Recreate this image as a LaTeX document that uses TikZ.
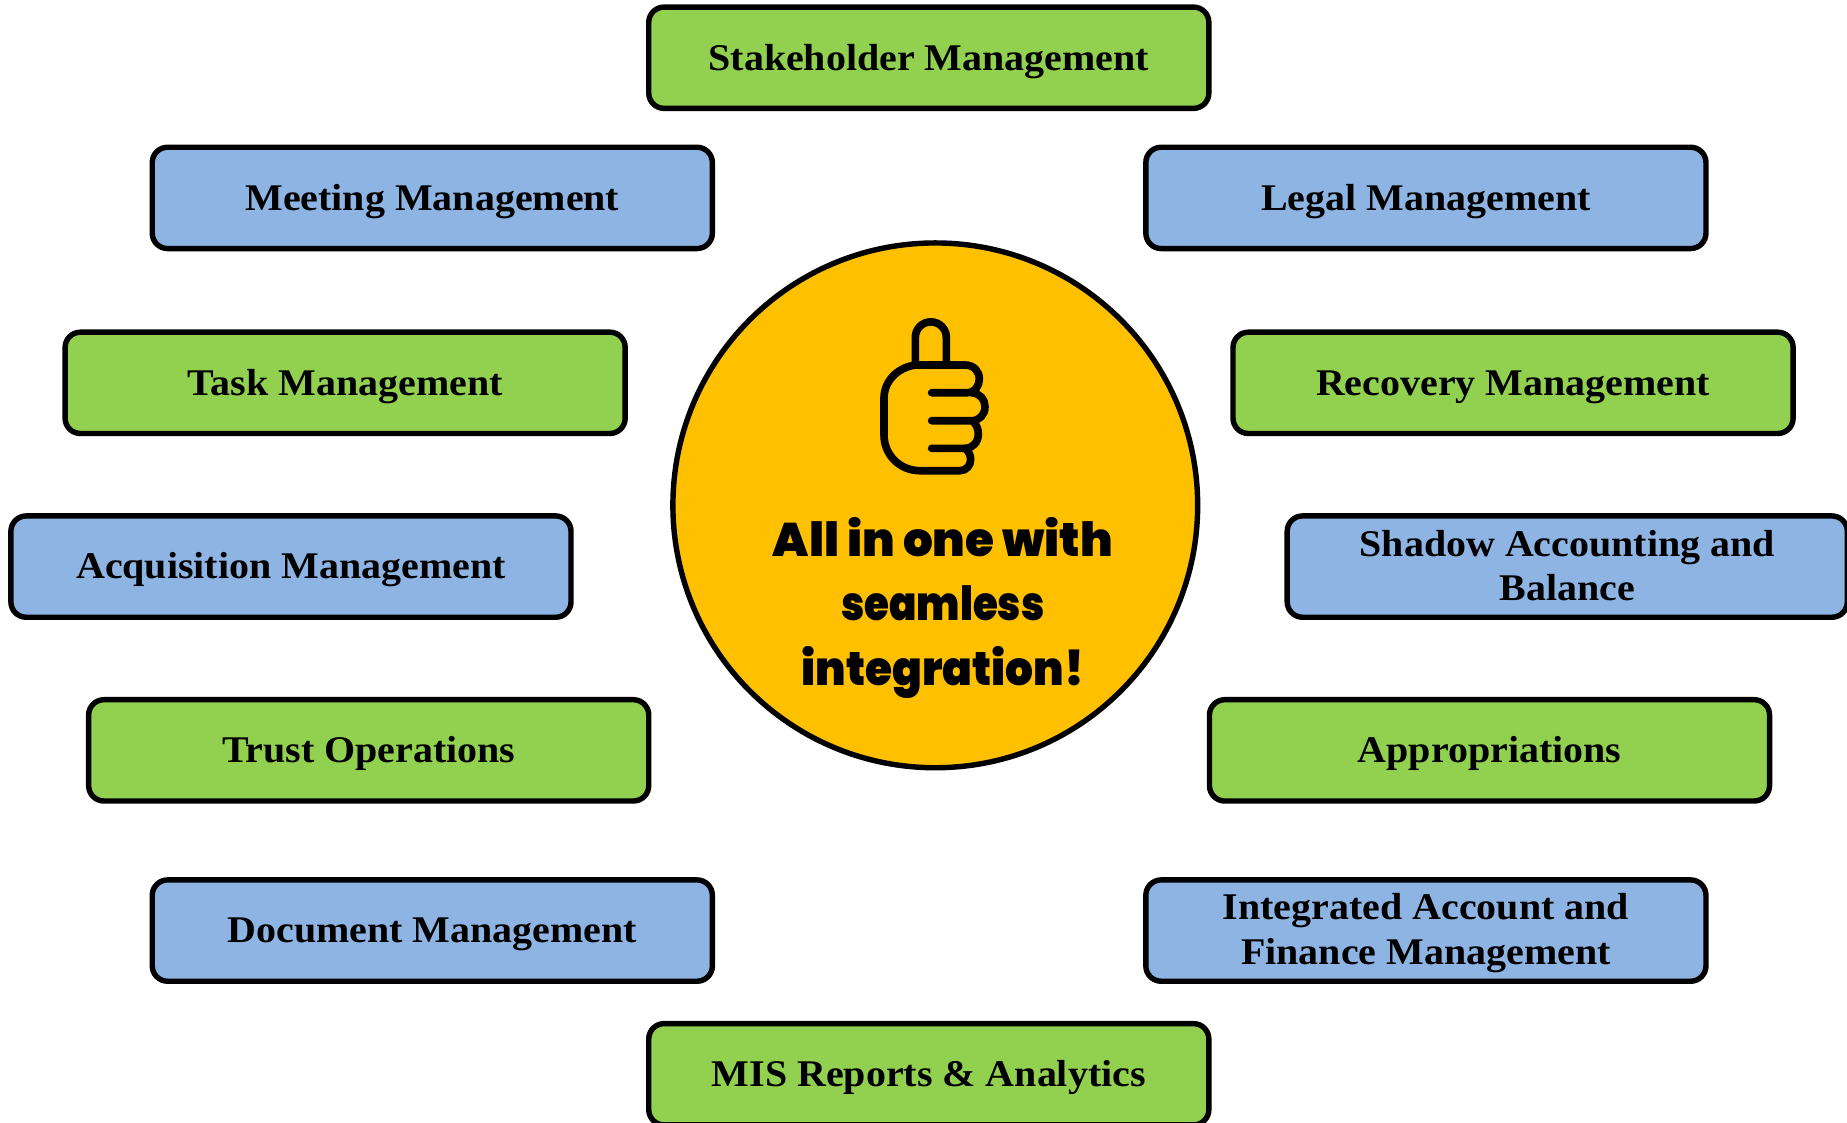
\documentclass[tikz,border=0pt]{standalone}
\usepackage{graphicx}
\usepackage{fontspec}
\setmainfont{Liberation Serif}[BoldFeatures={FakeStretch=1.06}]
\newfontfamily\headfont{Poppins}[BoldFont={Poppins Black}]
\definecolor{boxgreen}{HTML}{92D050}
\definecolor{boxblue}{HTML}{8EB4E3}
\definecolor{hubgold}{HTML}{FFC000}
\tikzset{
  itembox/.style={draw=black,line width=4.6pt,rounded corners=13pt,minimum width=475.5pt,minimum height=86pt,
    inner sep=0pt,align=center,text=black,font=\fontsize{32}{38}\selectfont\bfseries},
  greenbox/.style={itembox,fill=boxgreen},
  bluebox/.style={itembox,fill=boxblue},
  oneline/.style={text height=27pt,text depth=6pt},
  hub/.style={circle,draw=black,line width=4.6pt,fill=hubgold,minimum size=445.5pt,inner sep=0pt},
  hubtext/.style={align=center,inner sep=0pt,font=\headfont\fontsize{40}{54.5}\selectfont\bfseries},
  thumbline/.style={draw=black,line width=6.5pt,line cap=round,line join=round}
}
\begin{document}
\begin{tikzpicture}[x=1pt,y=-1pt]
\useasboundingbox (0,0) rectangle (1568,953);
\clip (0,0) rectangle (1568,953);
\node[hub] (hub) at (794,429) {};
\node[hubtext] (hublabel) at (800.5,516) {\scalebox{0.995}[1]{All in one with}\\\scalebox{0.855}[1]{seamless}\\\scalebox{0.93}[1]{integration!}};
\node[greenbox,oneline] (stakeholder) at (788.5,49) {Stakeholder Management};
\node[bluebox,oneline] (meeting) at (367,168) {Meeting Management};
\node[bluebox,oneline] (legal) at (1210.5,168) {Legal Management};
\node[greenbox,oneline] (task) at (293,325) {Task Management};
\node[greenbox,oneline] (recovery) at (1284.5,325) {Recovery Management};
\node[bluebox,oneline] (acquisition) at (247,481) {Acquisition Management};
\node[bluebox] (shadow) at (1330.5,481) {Shadow Accounting and\\Balance\rule[-2pt]{0pt}{0pt}};
\node[greenbox,oneline] (trust) at (313,637) {Trust Operations};
\node[greenbox,oneline] (appropriations) at (1264.5,637) {Appropriations};
\node[bluebox,oneline] (document) at (367,790) {Document Management};
\node[bluebox] (integrated) at (1210.5,790) {\rule{0pt}{26pt}Integrated Account and\\Finance Management};
\node[greenbox,oneline] (mis) at (788.5,912) {MIS Reports \& Analytics};
\begin{scope}[shift={(721.6,254.7)},x=0.283pt,y=-0.283pt]
\draw[thumbline] (196,192) -- (196,112) arc[start angle=180,end angle=360,radius=46.5] -- (289,192);
\draw[thumbline] (245,278) -- (352,278)
  .. controls (374,278) and (388,258) .. (388,237)
  .. controls (388,214) and (372,195) .. (345,195)
  -- (196,195)
  .. controls (140,203) and (102,245) .. (102,295)
  -- (102,405)
  .. controls (102,465) and (150,512) .. (210,512)
  -- (330,512)
  .. controls (350,512) and (362,495) .. (362,478)
  .. controls (362,465) and (355,452) .. (345,445);
\draw[thumbline] (365,278) .. controls (390,280) and (405,298) .. (405,320)
  .. controls (405,344) and (388,362) .. (365,362) -- (245,362);
\draw[thumbline] (370,365) .. controls (380,375) and (385,388) .. (385,402)
  .. controls (385,426) and (368,445) .. (345,445) -- (245,445);
\end{scope}
\end{tikzpicture}
\end{document}
